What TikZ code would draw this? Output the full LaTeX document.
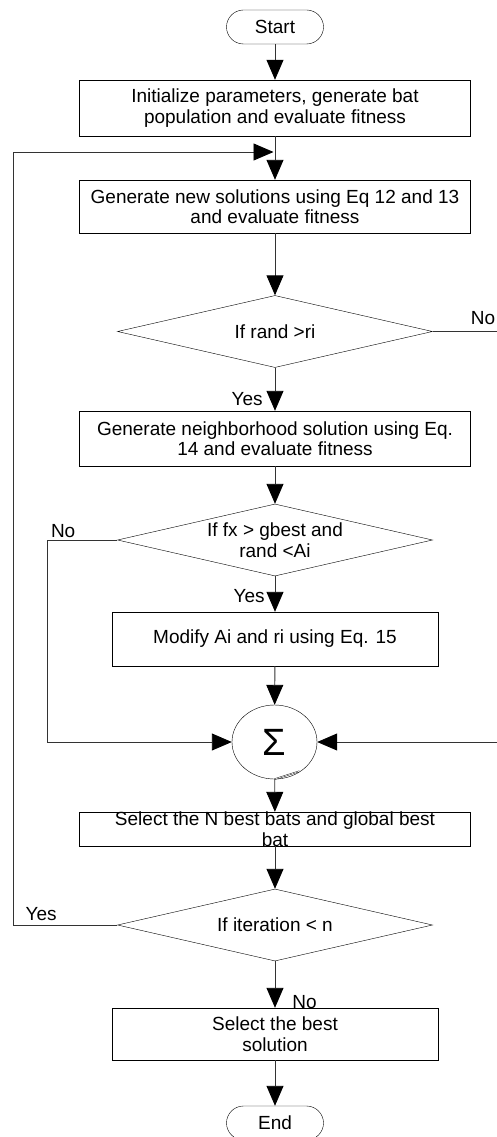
\documentclass[tikz,border=0pt]{standalone}
\usepackage{fontspec}
\setmainfont{Liberation Sans}
\usetikzlibrary{shapes.geometric,arrows.meta,positioning}

\begin{document}
\begin{tikzpicture}[x=1pt, y=-1pt,
    txt/.style={font=\fontsize{19}{20.5}\selectfont},
    term/.style={rectangle, draw, rounded corners=17pt, minimum width=97pt,
                 minimum height=34pt, inner sep=0pt, txt},
    box/.style={rectangle, draw, minimum width=391pt, minimum height=55pt,
                inner sep=0pt, align=center, txt},
    cond/.style={diamond, draw, aspect=4.375, minimum width=315pt,
                 minimum height=72pt, inner sep=0pt, align=center, txt},
    arr/.style={-{Triangle[length=20pt,width=17pt,color=black]}, line width=0.9pt, black!80},
    wire/.style={line width=0.9pt, black!80},
    lbl/.style={inner sep=0pt, text=black, txt}
]
    \useasboundingbox (0,0) rectangle (497,1137);

    \node[term] (start) at (275,27) {Start};
    \node[box, minimum height=56pt] (init) at (275,108) {Initialize parameters, generate bat\\population and evaluate fitness};
    \node[box, minimum height=53pt] (gen) at (275,206.5) {Generate new solutions using Eq 12 and 13\\and evaluate fitness};
    \node[cond] (rnd) at (275,331.5) {If rand >ri};
    \node[box] (nbr) at (275,438.5) {Generate neighborhood solution using Eq.\\14 and evaluate fitness};
    \node[cond] (fit) at (275,540) {If fx > gbest and\\rand <Ai};
    \node[box, minimum width=326pt, minimum height=54pt] (mod) at (275,639) {Modify Ai and ri using Eq. 15};
    \node[ellipse, draw, minimum width=85pt, minimum height=74pt, inner sep=0pt] (sum) at (274.5,742) {\fontsize{38}{40}\selectfont Σ};
    \node[box, minimum height=34pt,
          label={[lbl, align=center]center:Select the N best bats and global best\\bat}] (sel) at (275,829) {};
    \node[cond] (iter) at (275,925) {If iteration < n};
    \node[box, minimum width=326pt, minimum height=52pt] (best) at (275,1034) {Select the best\\solution};
    \node[term] (end) at (275,1123) {End};

    \coordinate (join) at (275,152);
    \coordinate (noright) at (499,331.5);
    \coordinate (noleft) at (47,540);
    \coordinate (yesleft) at (13,925);

    \draw[arr] (start) -- (init);
    \draw[arr] (init) -- (gen);
    \draw[arr] (gen) -- (rnd);
    \draw[arr] (rnd) -- node[lbl, pos=0.72, left=12pt] {Yes} (nbr);
    \draw[arr] (nbr) -- (fit);
    \draw[arr] (fit) -- node[lbl, pos=0.56, left=10pt] {Yes} (mod);
    \draw[arr] (mod) -- (sum);
    \draw[arr] (sum) -- (sel);
    \draw[arr] (sel) -- (iter);
    \draw[arr] (iter) -- node[lbl, pos=0.87, right=17pt] {No} (best);
    \draw[arr] (best) -- (end);

    \draw[wire] (rnd.east) -- node[lbl, pos=0.76, above=6pt] {No} (noright);
    \draw[arr] (noright) |- (sum.east);
    \draw[wire] (fit.west) -- node[lbl, pos=0.77, above=2pt] {No} (noleft);
    \draw[arr] (noleft) |- (sum.west);
    \draw[wire] (iter.west) -- node[lbl, pos=0.73, above=4pt] {Yes} (yesleft);
    \draw[arr, shorten >=1.5pt] (yesleft) |- (join);

    \draw[double, line width=0.4pt] (sum.south) -- ++(25,-8);
\end{tikzpicture}
\end{document}
